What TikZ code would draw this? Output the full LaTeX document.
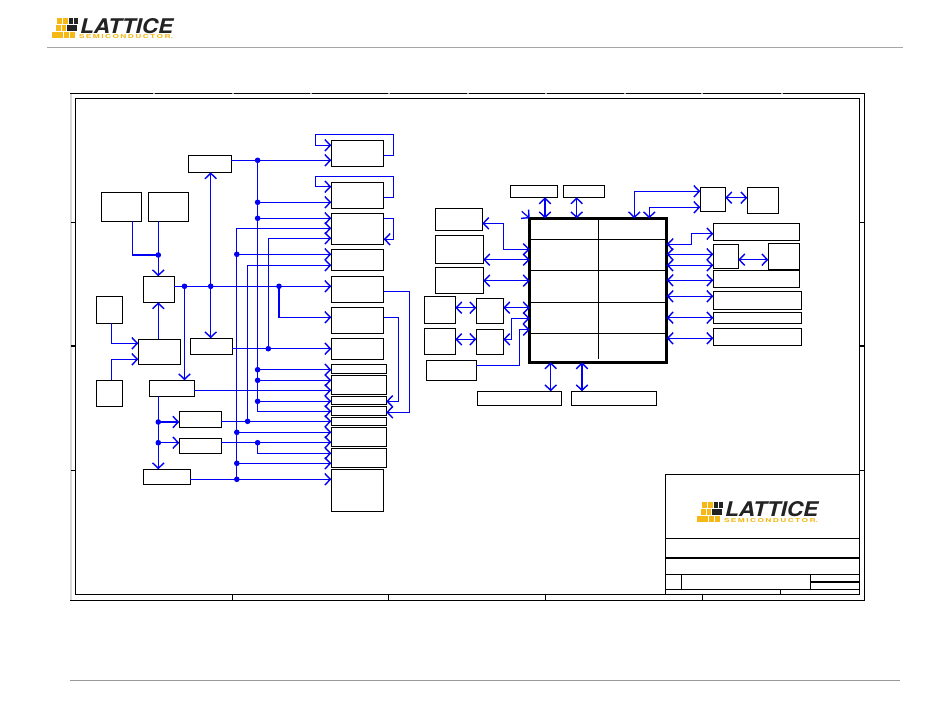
\documentclass[tikz,border=0pt]{standalone}
\usepackage{fontspec}
\setmainfont{TeX Gyre Heros}
\usetikzlibrary{arrows.meta}
\definecolor{wireblue}{RGB}{0,0,245}
\definecolor{logogold}{RGB}{245,184,20}
\definecolor{logodark}{RGB}{35,35,35}
\tikzset{
  bx/.style={draw=black,line width=1.1pt,inner sep=0pt,outer sep=0pt,anchor=north west,rectangle},
  wire/.style={draw=wireblue,line width=1.2pt,line join=miter,>={Straight Barb[length=5.5pt,width=11.5pt,line width=1.4pt]}},
  frameline/.style={draw=black,line width=1.1pt},
  logotext/.style={inner sep=0pt,outer sep=0pt,anchor=north west},
}
\newcommand{\bx}[5]{\node[bx,minimum width={(#4-#2)*1pt},minimum height={(#5-#3)*1pt}] (#1) at (#2,#3) {};}
\newcommand{\jn}[2]{\fill[wireblue] (#1,#2) circle[radius=2.8pt];}
\newcommand{\lattlogo}[2]{%
  \begin{scope}[shift={(#1,#2)}]
    \foreach \xa/\xb/\ya/\yb in {5/10.4/0/6.3,11.2/15.8/0/6.3,3.5/8.9/7/13.3,9.7/14.3/7/13.3,0/5.6/14/20.5,6.4/11.4/14/20.5,12.2/17/14/20.5,17.8/23/14/20.5}
      \fill[logogold] (\xa,\ya) rectangle (\xb,\yb);
    \foreach \xa/\xb/\ya/\yb in {16.6/21/0/6.3,21.8/26/0/6.3,15.1/19.5/7/13.3,20.3/24.5/7/13.3}
      \fill[logodark] (\xa,\ya) rectangle (\xb,\yb);
    \node[logotext,text=logodark] (#1logoname) at (28,0) {\resizebox{93pt}{15pt}{\bfseries\itshape LATTICE}};
    \node[logotext,text=logogold] (#1logosub) at (27,17) {\resizebox{94pt}{4pt}{\bfseries S\,E\,M\,I\,C\,O\,N\,D\,U\,C\,T\,O\,R.}};
  \end{scope}}
\begin{document}
\begin{tikzpicture}[x=1pt,y=-1pt]
\useasboundingbox (0,0) rectangle (950,725);
\fill[white] (0,0) rectangle (950,725);

% header and footer
\lattlogo{52}{18}
\draw[black!35,line width=1pt] (47,47.5) -- (903,47.5);
\draw[black!40,line width=1pt] (70,680.5) -- (900,680.5);

% sheet frame
\draw[black!15,line width=1.2pt] (71,93.3) -- (71,600.3);
\draw[frameline] (70,93.3) -- (864.3,93.3) -- (864.3,600.3) -- (70,600.3);
\draw[frameline] (75.3,98.3) rectangle (859.7,594.3);
\foreach \xa in {154,233,311,389,468,546,625,702,782} \draw[black!35,line width=1.1pt] (\xa-0.7,93.3) -- (\xa+0.7,93.3);
\foreach \xa in {232.3,388.3,545.3,702.3} \draw[frameline] (\xa,594.3) -- (\xa,600.3);
\foreach \ya in {222.3,470.3} {\draw[frameline] (71,\ya) -- (75.3,\ya); \draw[frameline] (859.7,\ya) -- (864.3,\ya);}
\draw[line width=1.6pt] (71,346) -- (75.3,346);
\draw[line width=1.6pt] (859.7,346) -- (864,346);

% title block
\draw[frameline] (665.3,474.3) rectangle (859.7,594.3);
\draw[frameline] (665.3,538.3) -- (859.7,538.3);
\draw[line width=1.8pt] (665.3,557.7) -- (859.7,557.7);
\draw[frameline] (665.3,574.3) -- (859.7,574.3);
\draw[frameline] (665.3,589.7) -- (859.7,589.7);
\draw[frameline] (681.7,574.3) -- (681.7,589.7);
\draw[frameline] (810.3,574.3) -- (810.3,589.7);
\draw[line width=1.5pt] (810.3,582) -- (859.7,582);
\draw[frameline] (780.3,589.7) -- (780.3,594.3);
\lattlogo{697}{501.7}

% left blocks
\bx{A}{188.3}{155.3}{231.3}{172.3}
\bx{B}{101.3}{192.3}{141.3}{221.3}
\bx{C}{148.3}{192.3}{188.3}{221.3}
\bx{D}{143.3}{276.3}{174.3}{302.3}
\bx{E}{96.3}{296.3}{122.3}{323.3}
\bx{F}{138.3}{339.3}{180.3}{364.3}
\bx{G}{190.3}{338.3}{232.3}{354.3}
\bx{H}{96.3}{380.3}{122.3}{406.3}
\bx{I}{149.3}{380.3}{194.3}{396.3}
\bx{J}{179.3}{411.3}{221.3}{427.3}
\bx{K}{179.3}{438.3}{221.3}{453.3}
\bx{L}{143.3}{469.3}{190.3}{484.3}

% centre column
\bx{Ra}{331.3}{140.3}{383.7}{166.3}
\bx{Rb}{331.3}{182.3}{383.7}{208.3}
\bx{Rc}{331.3}{213.3}{383.7}{244.3}
\bx{Rd}{331.3}{249.3}{383.7}{270.3}
\bx{Re}{331.3}{276.3}{383.7}{302.3}
\bx{Rf}{331.3}{307.3}{383.7}{333.3}
\bx{Rg}{331.3}{338.3}{383.7}{359.3}
\bx{Rh}{331.3}{364.3}{386.3}{373.3}
\bx{Ri}{331.3}{375.3}{386.3}{394.3}
\bx{Rj}{331.3}{396.3}{386.3}{404.3}
\bx{Rk}{331.3}{406.3}{386.3}{415.3}
\bx{Rl}{331.3}{417.3}{386.3}{425.3}
\bx{Rm}{331.3}{427.3}{386.3}{446.3}
\bx{Rn}{331.3}{448.3}{386.3}{467.3}
\bx{Ro}{331.3}{469.3}{383.7}{511.3}

% FPGA side blocks
\bx{Ta}{510.3}{185.3}{557.3}{197.3}
\bx{Tb}{563.3}{185.3}{604.3}{197.3}
\bx{La}{435.3}{208.3}{482.3}{230.3}
\bx{Lb}{435.3}{235.3}{483.3}{263.3}
\bx{Lc}{435.3}{267.3}{483.3}{293.3}
\bx{Ld}{424.3}{296.3}{455.3}{323.3}
\bx{Le}{476.3}{298.3}{503.3}{323.3}
\bx{Lf}{424.3}{328.3}{455.3}{354.3}
\bx{Lg}{476.3}{329.3}{503.3}{354.3}
\bx{Lh}{426.3}{360.3}{476.3}{380.3}
\bx{Ba}{477.3}{391.3}{561.3}{405.3}
\bx{Bb}{571.3}{391.3}{656.3}{405.3}
\bx{Qa}{700.3}{187.3}{725.3}{211.3}
\bx{Qb}{747.3}{187.3}{778.3}{213.3}
\bx{Sa}{713.3}{223.3}{799.3}{240.3}
\bx{Sb}{713.3}{244.3}{738.3}{268.3}
\bx{Sc}{768.3}{243.3}{799.3}{269.3}
\bx{Sd}{713.3}{270.3}{799.3}{287.3}
\bx{Se}{713.3}{291.3}{801.3}{309.3}
\bx{Sf}{713.3}{312.3}{801.3}{323.3}
\bx{Sg}{713.3}{328.3}{801.3}{345.3}

% FPGA
\node[bx,line width=2.8pt,minimum width=137pt,minimum height=144pt] (M) at (529.7,218.3) {};
\draw[frameline] (M.west |- 0,239.3) -- (M.east |- 0,239.3);
\draw[frameline] (M.west |- 0,270.3) -- (M.east |- 0,270.3);
\draw[frameline] (M.west |- 0,302.3) -- (M.east |- 0,302.3);
\draw[frameline] (M.west |- 0,333.3) -- (M.east |- 0,333.3);
\draw[frameline] (598.3,218.3) -- (598.3,359.3);

% left wires
\coordinate (xcd) at (158.3,0);
\draw[wire] (B.south -| 132.3,0) -- (132.3,255) -- (158.3,255);
\draw[wire,->] (C.south -| xcd) -- (D.north -| xcd);
\draw[wire,->] (F.north -| xcd) -- (D.south -| xcd);
\draw[wire,->] (E.south -| 111.3,0) -- (111.3,343.3) -- (F.west |- 0,343.3);
\draw[wire,->] (H.north -| 111.3,0) -- (111.3,359.3) -- (F.west |- 0,359.3);
\draw[wire,<->] (A.south -| 210.7,0) -- (G.north -| 210.7,0);
\draw[wire,->] (184.5,286.3) -- (I.north -| 184.5,0);
\draw[wire,->] (I.south -| xcd) -- (L.north -| xcd);
\draw[wire,->] (158.3,422) -- (J.west |- 0,422);
\draw[wire,->] (158.3,442.7) -- (K.west |- 0,442.7);
\jn{158.3}{255}\jn{184.5}{286.3}\jn{210.7}{286.3}\jn{158.3}{422}\jn{158.3}{442.7}

% buses
\draw[wire] (236.3,228.3) -- (236.3,479.3);
\draw[wire] (247.3,265.3) -- (247.3,421.3);
\draw[wire] (257.3,160.3) -- (257.3,411.3);
\draw[wire] (268.3,238.3) -- (268.3,348.7);
\draw[wire,->] (236.3,228.3) -- (Rc.west |- 0,228.3);
\draw[wire,->] (247.3,265.3) -- (Rd.west |- 0,265.3);
\draw[wire,->] (268.3,238.3) -- (Rc.west |- 0,238.3);

\draw[wire,->] (A.east |- 0,160.3) -- (Ra.west |- 0,160.3);
\draw[wire,->] (Ra.east |- 0,155.3) -- (393.7,155.3) -- (393.7,134.3) -- (315.3,134.3) -- (315.3,145.3) -- (Ra.west |- 0,145.3);
\draw[wire,->] (Rb.east |- 0,197.3) -- (393.7,197.3) -- (393.7,176.3) -- (315.3,176.3) -- (315.3,186.7) -- (Rb.west |- 0,186.7);
\draw[wire,->] (257.3,202.3) -- (Rb.west |- 0,202.3);
\draw[wire,->] (257.3,218.3) -- (Rc.west |- 0,218.3);
\draw[wire,->] (Rc.east |- 0,218.3) -- (393.7,218.3) -- (393.7,239.3) -- (Rc.east |- 0,239.3);
\draw[wire,->] (236.3,254.3) -- (Rd.west |- 0,254.3);
\draw[wire,->] (D.east |- 0,286.3) -- (Re.west |- 0,286.3);
\draw[wire,->] (279,286.3) -- (279,317.3) -- (Rf.west |- 0,317.3);
\draw[wire,->] (Re.east |- 0,291.3) -- (409.7,291.3) -- (409.7,412.3) -- (Rk.east |- 0,412.3);
\draw[wire,->] (Rf.east |- 0,317.3) -- (398.7,317.3) -- (398.7,401.3) -- (Rj.east |- 0,401.3);
\draw[wire,->] (G.east |- 0,348.7) -- (Rg.west |- 0,348.7);
\draw[wire,->] (257.3,369.7) -- (Rh.west |- 0,369.7);
\draw[wire,->] (257.3,380.3) -- (Ri.west |- 0,380.3);
\draw[wire,->] (I.east |- 0,390.3) -- (Ri.west |- 0,390.3);
\draw[wire,->] (257.3,401.3) -- (Rj.west |- 0,401.3);
\draw[wire,->] (257.3,411.3) -- (Rk.west |- 0,411.3);
\draw[wire,->] (J.east |- 0,421.3) -- (Rl.west |- 0,421.3);
\draw[wire,->] (236.3,432.3) -- (Rm.west |- 0,432.3);
\draw[wire,->] (K.east |- 0,442.3) -- (Rm.west |- 0,442.3);
\draw[wire,->] (257.3,442.3) -- (257.3,453.3) -- (Rn.west |- 0,453.3);
\draw[wire,->] (236.3,463.3) -- (Rn.west |- 0,463.3);
\draw[wire,->] (L.east |- 0,479.3) -- (Ro.west |- 0,479.3);
\jn{257.6}{160.3}\jn{257.6}{202.3}\jn{257.6}{218.3}\jn{236.8}{254.3}\jn{279}{286.3}
\jn{268.3}{348.7}\jn{257.6}{369.7}\jn{257.6}{380.3}\jn{257.6}{401.3}\jn{247.6}{421.3}
\jn{236.8}{432.3}\jn{257.6}{442.7}\jn{236.8}{463.3}\jn{236.8}{479.3}

% FPGA wires, top and bottom
\coordinate (free) at (521.7,211.3);
\draw[wire,->] (free) -- (M.north west);
\draw[wire,<->] (Ta.south -| 545,0) -- (M.north -| 545,0);
\draw[wire,<->] (Tb.south -| 576.7,0) -- (M.north -| 576.7,0);
\draw[wire,<->] (M.south -| 550.7,0) -- (Ba.north -| 550.7,0);
\draw[wire,<->] (M.south -| 582,0) -- (Bb.north -| 582,0);
\draw[wire,<->] (M.north -| 634.3,0) -- (634.3,191.3) -- (Qa.west |- 0,191.3);
\draw[wire,<->] (M.north -| 649.3,0) -- (649.3,207.3) -- (Qa.west |- 0,207.3);
\draw[wire,<->] (Qa.east |- 0,197.7) -- (Qb.west |- 0,197.7);

% FPGA wires, left
\draw[wire,<->] (La.east |- 0,223.3) -- (503.3,223.3) -- (503.3,249.3) -- (M.west |- 0,249.3);
\draw[wire,<->] (Lb.east |- 0,259.7) -- (M.west |- 0,259.7);
\draw[wire,<->] (Lc.east |- 0,280.7) -- (M.west |- 0,280.7);
\draw[wire,<->] (Ld.east |- 0,307.7) -- (Le.west |- 0,307.7);
\draw[wire,<->] (Le.east |- 0,307.7) -- (M.west |- 0,307.7);
\draw[wire,<->] (Lf.east |- 0,339.3) -- (Lg.west |- 0,339.3);
\draw[wire,<->] (Lg.east |- 0,339.3) -- (511.3,339.3) -- (511.3,318.3) -- (M.west |- 0,318.3);
\draw[wire,->] (Lh.east |- 0,365.3) -- (519.3,365.3) -- (519.3,329.7) -- (M.west |- 0,329.7);

% FPGA wires, right
\draw[wire,<->] (M.east |- 0,244.3) -- (691.3,244.3) -- (691.3,233.7) -- (Sa.west |- 0,233.7);
\draw[wire,<->] (M.east |- 0,254.3) -- (Sb.west |- 0,254.3);
\draw[wire,<->] (M.east |- 0,265.3) -- (Sb.west |- 0,265.3);
\draw[wire,<->] (Sb.east |- 0,259.7) -- (Sc.west |- 0,259.7);
\draw[wire,<->] (M.east |- 0,280.3) -- (Sd.west |- 0,280.3);
\draw[wire,<->] (M.east |- 0,296.3) -- (Se.west |- 0,296.3);
\draw[wire,<->] (M.east |- 0,317.7) -- (Sf.west |- 0,317.7);
\draw[wire,<->] (M.east |- 0,338.3) -- (Sg.west |- 0,338.3);
\end{tikzpicture}
\end{document}
